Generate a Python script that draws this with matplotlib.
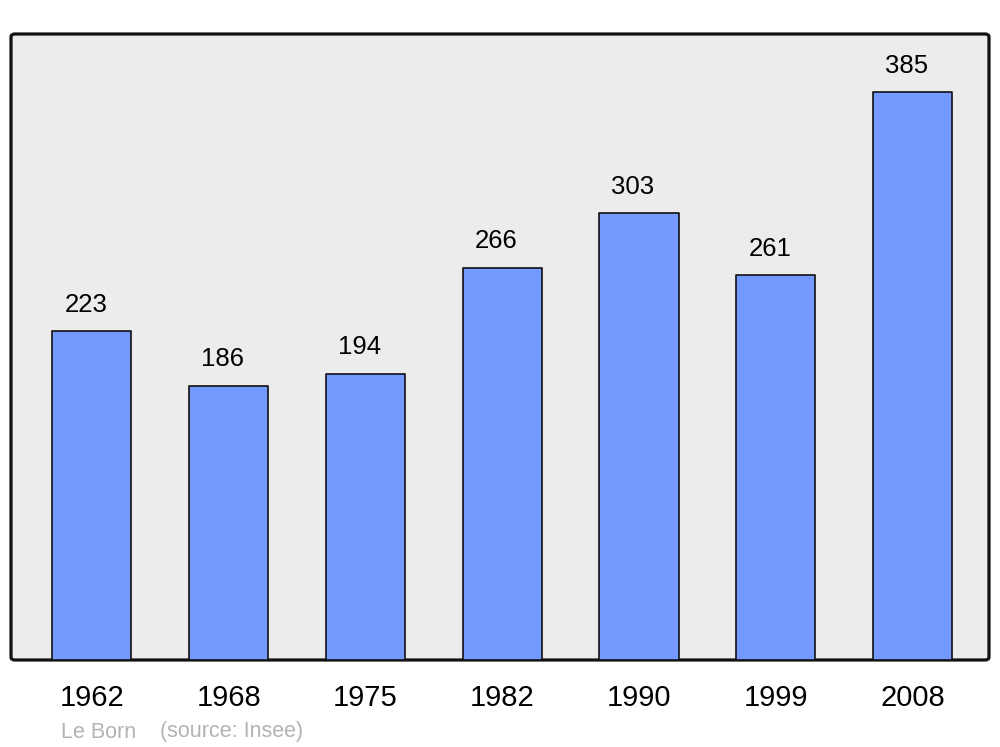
import matplotlib.pyplot as plt
from matplotlib.patches import FancyBboxPatch

plt.rcParams['font.family'] = ['Liberation Sans', 'DejaVu Sans']

# Données de population
annees = ['1962', '1968', '1975', '1982', '1990', '1999', '2008']
population = [223, 186, 194, 266, 303, 261, 385]

fig = plt.figure(figsize=(10, 7.47), dpi=100)
W, H = 1000, 747
ax = fig.add_axes([11 / W, 1 - 660 / H, 978 / W, 626 / H])
ax.set_facecolor('none')

# Cadre arrondi
cadre = FancyBboxPatch((11 / W, 1 - 660 / H), 978 / W, 626 / H,
                       boxstyle='round,pad=0,rounding_size=0.004',
                       transform=fig.transFigure, facecolor='#ececec',
                       edgecolor='#111111', linewidth=2.3, zorder=-5)
fig.patches.append(cadre)

x = range(len(annees))
bars = ax.bar(x, population, width=0.578, color='#7499ff', edgecolor='#111111',
              linewidth=1.2, zorder=2)
for b in bars:
    b.set_joinstyle('round')

for i, v in enumerate(population):
    ax.annotate(str(v), (i, v), xytext=(-4.3, 19), textcoords='offset points',
                ha='center', va='center', fontsize=18.5, color='black')

ax.set_xlim(-0.592, 6.559)
ax.set_ylim(0, 424.4)
for s in ax.spines.values():
    s.set_visible(False)
ax.set_yticks([])
ax.set_xticks(list(x))
ax.set_xticklabels(annees, fontsize=21)
ax.tick_params(axis='x', length=0, pad=17)

fig.text(61 / W, 1 - 732 / H, 'Le Born', color='#b3b3b3', fontsize=15.5, va='center')
fig.text(160 / W, 1 - 732 / H, '(source: Insee)', color='#b3b3b3', fontsize=15.5, va='center')

fig.savefig('out.png', dpi=100)
